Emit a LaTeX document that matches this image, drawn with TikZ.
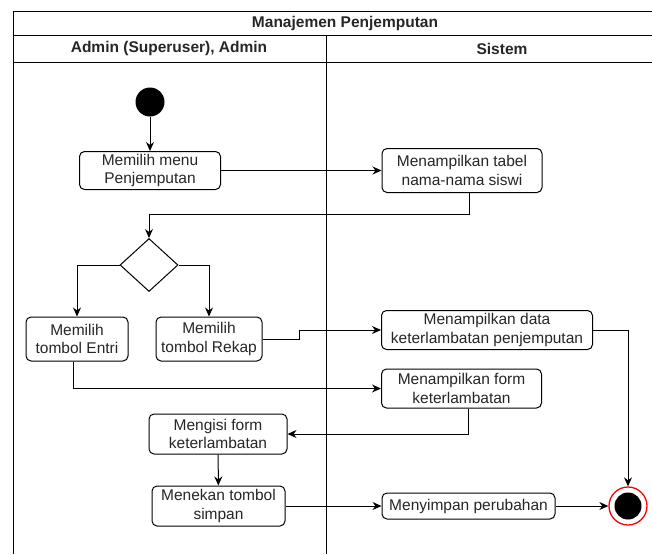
\documentclass[tikz,border=0pt]{standalone}
\usepackage{fontspec}
\setmainfont{Liberation Sans}
\usetikzlibrary{arrows.meta,shapes.geometric}
\tikzset{
    action-box/.style = {draw=black, fill=white, line width=1pt, rectangle, rounded corners=5pt, align=center, inner sep=2pt, text=black!85, font=\fontsize{15.5}{18.5}\selectfont},
    lane-title/.style = {text=black!85, font=\fontsize{15.5}{18.5}\selectfont\bfseries},
    lane-line/.style = {draw=black, line width=0.9pt},
    start-dot/.style = {circle, fill=black, minimum size=29pt, inner sep=0pt},
    end-dot/.style = {circle, draw=red, line width=1.3pt, fill=white, minimum size=38pt, inner sep=0pt,
        path picture={\fill[black] (path picture bounding box.center) circle (13.5pt);}},
    choice/.style = {diamond, draw=black, fill=white, line width=1pt, minimum width=58pt, minimum height=53pt, inner sep=0pt},
    flow/.style = {-{Stealth[length=9pt,width=8pt]}, line width=1pt},
}

\begin{document}
\begin{tikzpicture}[x=1pt, y=-1pt]
\useasboundingbox (0,0) rectangle (652,554);
% swimlanes
\draw[lane-line] (652,11) -- (13,11) -- (13,554);
\draw[lane-line] (13,35) -- (652,35);
\draw[lane-line] (13,62) -- (652,62);
\draw[lane-line] (326,35) -- (326,554);
\node[lane-title] (judul) at (345,23) {Manajemen Penjemputan};
\node[lane-title] (lane-admin) at (169,48.5) {Admin (Superuser), Admin};
\node[lane-title] (lane-sistem) at (502,48.5) {Sistem};

% activities
\node[start-dot] (start) at (150,102) {};
\node[action-box, minimum width=141pt, minimum height=38pt] (pilih-menu) at (150,170.5) {Memilih menu\\Penjemputan};
\node[action-box, minimum width=160pt, minimum height=44pt] (tabel) at (462,170.5) {Menampilkan tabel\\nama-nama siswi};
\node[choice] (pilihan) at (149,265) {};
\node[action-box, minimum width=102pt, minimum height=44pt] (entri) at (77,339) {Memilih\\tombol Entri};
\node[action-box, minimum width=106pt, minimum height=44pt] (rekap) at (209,339) {Memilih\\tombol Rekap};
\node[action-box, minimum width=211pt, minimum height=39pt] (data) at (487,330) {Menampilkan data\\keterlambatan penjemputan};
\node[action-box, minimum width=160pt, minimum height=39pt] (form) at (461.5,388.5) {Menampilkan form\\keterlambatan};
\node[action-box, minimum width=138pt, minimum height=40pt] (isi) at (218,434) {Mengisi form\\keterlambatan};
\node[action-box, minimum width=133pt, minimum height=40pt] (simpan) at (218.5,506) {Menekan tombol\\simpan};
\node[action-box, minimum width=173pt, minimum height=26pt] (perubahan) at (468.5,506) {Menyimpan perubahan};
\node[end-dot] (end) at (628,506) {};
\coordinate (belok) at (149,214);

% flows
\draw[flow] (start) -- (pilih-menu);
\draw[flow] (pilih-menu) -- (tabel);
\draw[flow] ([xshift=7pt]tabel.south) |- (belok) -- (pilihan.north);
\draw[flow] (pilihan.west) -| (entri.north);
\draw[flow] (pilihan.east) -| (rekap.north);
\draw[flow] (rekap.east) -- ++(37,0) |- (data.west);
\draw[flow] ([xshift=-4pt]entri.south) |- (form.west);
\draw[flow] ([xshift=7pt]form.south) |- (isi.east);
\draw[flow] (isi) -- (simpan);
\draw[flow] (simpan) -- (perubahan);
\draw[flow] (perubahan) -- (end);
\draw[flow] (data.east) -| (end.north);
\end{tikzpicture}
\end{document}
